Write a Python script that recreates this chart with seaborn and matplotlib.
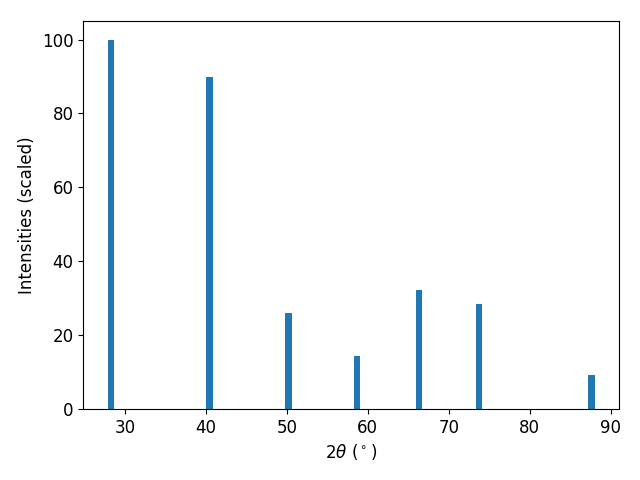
import numpy as np
import pandas as pd
import matplotlib
matplotlib.use("Agg")
import matplotlib.pyplot as plt
import seaborn as sns

# picchi del diffrattogramma (posizione 2theta e intensita' relativa)
two_theta   = [28.3, 40.45, 50.2, 58.65, 66.3, 73.7, 87.6]
intensities = [100, 90.0, 26.0, 14.3, 32.2, 28.4, 9.2]

plt.rcParams["font.size"] = 12

df = pd.DataFrame({"two_theta": two_theta, "intensity": intensities})

fig, ax = plt.subplots(figsize=(6.4, 4.8), dpi=100)

# larghezza barra ~0.8 gradi in scala nativa
larghezza = 0.8 / np.min(np.diff(two_theta))
sns.barplot(
    data        = df,
    x           = "two_theta",
    y           = "intensity",
    native_scale= True,
    width       = larghezza,
    color       = "#1f77b4",
    saturation  = 1,
    errorbar    = None,
    ax          = ax,
)

ax.set_xlim(24.86, 91.0)
ax.set_ylim(0, 105)
ax.set_xticks([30, 40, 50, 60, 70, 80, 90])
ax.set_xlabel(r"2$\theta$ ($^\circ$)")
ax.set_ylabel("Intensities (scaled)")
fig.subplots_adjust(left=0.130, right=0.967, bottom=0.148, top=0.956)
plt.savefig("out.png")
plt.close()
